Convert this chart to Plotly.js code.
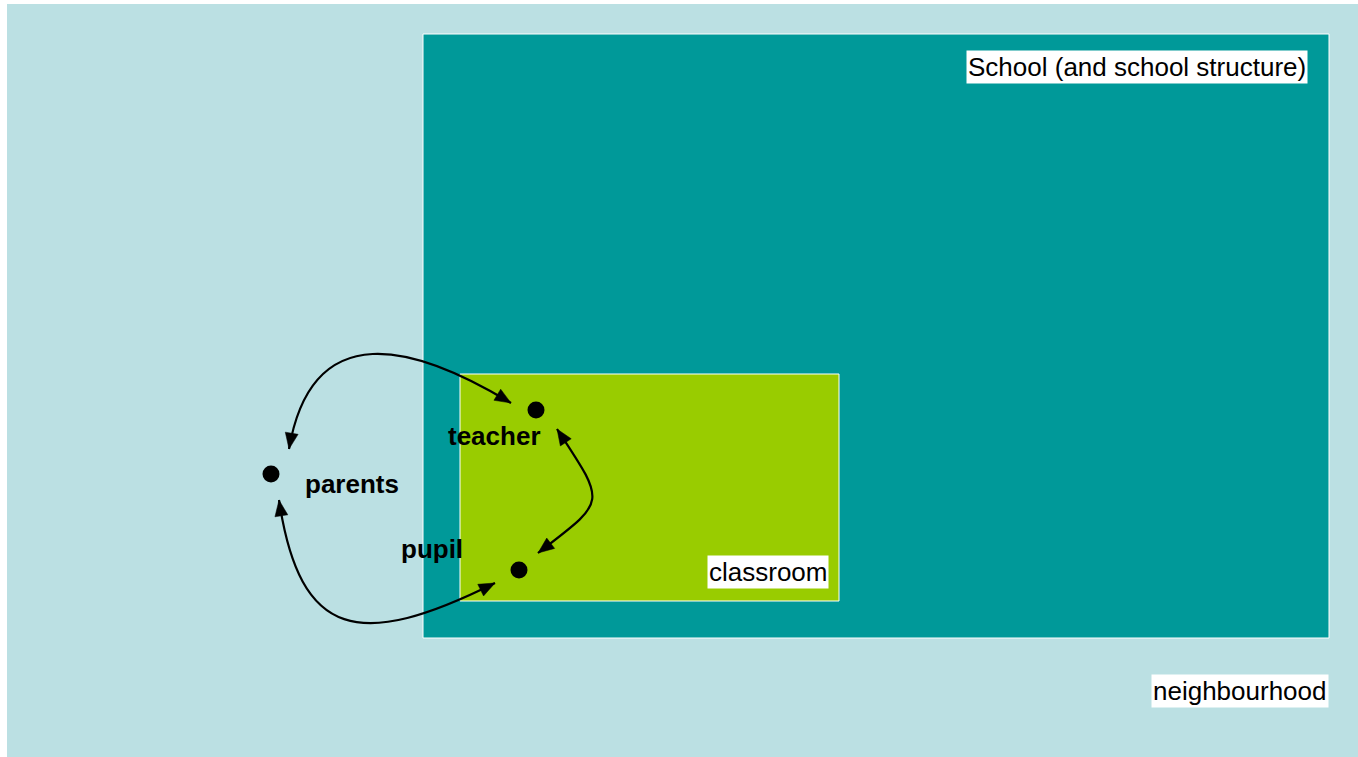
<!DOCTYPE html>
<html>
<head>
<meta charset="utf-8">
<script src="https://cdn.plot.ly/plotly-3.0.1.min.js"></script>
<style>html,body{margin:0;padding:0;background:#fff;}#chart{width:1358px;height:757px;}</style>
</head>
<body>
<div id="chart"></div>
<script>
// ---- data ----
const nodeNames = ['teacher', 'parents', 'pupil'];
const nodeX = [536, 271, 519];
const nodeY = [410, 474, 570];
const regionNames = ['neighbourhood', 'School (and school structure)', 'classroom'];
const links = [['parents', 'teacher'], ['teacher', 'pupil'], ['parents', 'pupil']];

// ---- layout helpers ----
const W = 1358, H = 757;
const regionBoxes = [
  {x0: 7, y0: 4, x1: 1358, y1: 757, fill: '#BBE0E3', line: false, lx: 1329, ly: 691},
  {x0: 423, y0: 34, x1: 1329, y1: 638, fill: '#009999', line: true, lx: 1308, ly: 67},
  {x0: 460, y0: 374, x1: 839, y1: 601, fill: '#99CC00', line: true, lx: 829, ly: 572}
];
const labelPos = {teacher: [494, 436], parents: [352, 484], pupil: [432, 549]};
// cubic bezier control points (tips sit at arrowheads)
const curves = [
  [[289, 449], [312, 315], [415, 345], [511, 403]],
  [[557, 429], [607, 505], [607, 500], [538, 553]],
  [[279, 500], [300, 640], [360, 650], [495, 583]]
];

const shapes = [];
regionBoxes.forEach(r => {
  shapes.push({type: 'rect', xref: 'x', yref: 'y', x0: r.x0, y0: r.y0, x1: r.x1, y1: r.y1,
    fillcolor: r.fill, line: r.line ? {color: '#FFFFFF', width: 1} : {width: 0}, layer: 'below'});
});

function arrowHead(tip, from) {
  const dx = tip[0] - from[0], dy = tip[1] - from[1];
  const len = Math.hypot(dx, dy);
  const ux = dx / len, uy = dy / len;
  const L = 16, hw = 6.5;
  const bx = tip[0] - ux * L, by = tip[1] - uy * L;
  const px = -uy, py = ux;
  return 'M ' + tip[0] + ' ' + tip[1] +
    ' L ' + (bx + px * hw) + ' ' + (by + py * hw) +
    ' L ' + (bx - px * hw) + ' ' + (by - py * hw) + ' Z';
}

curves.forEach(c => {
  const [p0, p1, p2, p3] = c;
  shapes.push({type: 'path', xref: 'x', yref: 'y',
    path: `M ${p0[0]} ${p0[1]} C ${p1[0]} ${p1[1]}, ${p2[0]} ${p2[1]}, ${p3[0]} ${p3[1]}`,
    line: {color: '#000000', width: 2.2}});
  shapes.push({type: 'path', xref: 'x', yref: 'y', path: arrowHead(p0, p1),
    fillcolor: '#000000', line: {color: '#000000', width: 0.5}});
  shapes.push({type: 'path', xref: 'x', yref: 'y', path: arrowHead(p3, p2),
    fillcolor: '#000000', line: {color: '#000000', width: 0.5}});
});

const annotations = [];
regionBoxes.forEach((r, i) => {
  annotations.push({x: r.lx, y: r.ly, xref: 'x', yref: 'y', xanchor: 'right', yanchor: 'middle',
    text: regionNames[i], showarrow: false, bgcolor: '#FFFFFF', borderpad: 1,
    font: {family: 'Liberation Sans, Arial, sans-serif', size: 26, color: '#000000'}});
});
nodeNames.forEach(n => {
  annotations.push({x: labelPos[n][0], y: labelPos[n][1], xref: 'x', yref: 'y',
    xanchor: 'center', yanchor: 'middle', text: '<b>' + n + '</b>', showarrow: false,
    font: {family: 'Liberation Sans, Arial, sans-serif', size: 26, color: '#000000'}});
});

const trace = {x: nodeX, y: nodeY, text: nodeNames, mode: 'markers', type: 'scatter',
  marker: {size: 17, color: '#000000'}, hoverinfo: 'none', cliponaxis: false};

const layout = {
  width: W, height: H, margin: {l: 0, r: 0, t: 0, b: 0, pad: 0},
  paper_bgcolor: '#FFFFFF', plot_bgcolor: '#FFFFFF', showlegend: false,
  xaxis: {range: [0, W], visible: false, fixedrange: true},
  yaxis: {range: [H, 0], visible: false, fixedrange: true},
  shapes: shapes, annotations: annotations
};
Plotly.newPlot('chart', [trace], layout, {staticPlot: true, displayModeBar: false});
</script>
</body>
</html>
